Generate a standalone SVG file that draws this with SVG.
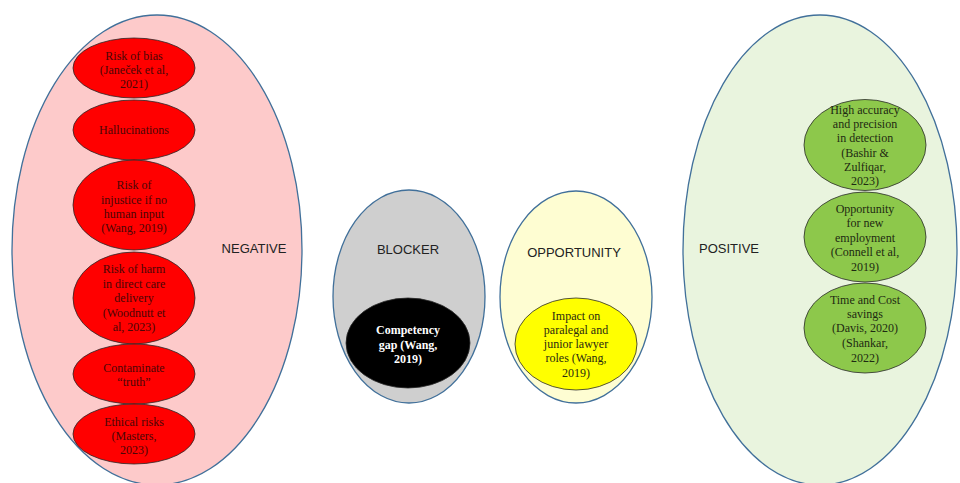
<svg xmlns="http://www.w3.org/2000/svg" width="960" height="483" viewBox="0 0 960 483">
<style>
.big{stroke:#41709a;stroke-width:1.3}
.lbl{font-family:"Liberation Sans",Arial,sans-serif;font-size:13px;fill:#222;text-anchor:middle}
.in{stroke:#2a2a2a;stroke-width:0.8}
.t{font-family:"Liberation Serif","Times New Roman",serif;font-size:12px;text-anchor:middle}
.tr{fill:#4a0606}
.tg{fill:#1e2a12}
.ty{fill:#2a2a10}
.tw{fill:#ffffff;font-weight:bold}
</style>
<rect width="960" height="483" fill="#ffffff"/>
<g id="negative">
<ellipse class="big" cx="157" cy="250" rx="145" ry="235" fill="#fdcaca"/>
<text class="lbl" x="254" y="253">NEGATIVE</text>
</g>
<g id="neg-bias">
<ellipse class="in" cx="134" cy="68" rx="61" ry="30" fill="#ff0000"/>
<text class="t tr" x="134" y="60">Risk of bias</text>
<text class="t tr" x="134" y="74">(Janeček et al,</text>
<text class="t tr" x="134" y="88">2021)</text>
</g>
<g id="neg-halluc">
<ellipse class="in" cx="134" cy="130" rx="61" ry="30" fill="#ff0000"/>
<text class="t tr" x="134" y="134">Hallucinations</text>
</g>
<g id="neg-injustice">
<ellipse class="in" cx="134" cy="205" rx="61" ry="45" fill="#ff0000"/>
<text class="t tr" x="134" y="189">Risk of</text>
<text class="t tr" x="134" y="204">injustice if no</text>
<text class="t tr" x="134" y="218">human input</text>
<text class="t tr" x="134" y="232">(Wang, 2019)</text>
</g>
<g id="neg-harm">
<ellipse class="in" cx="134" cy="298" rx="61" ry="46" fill="#ff0000"/>
<text class="t tr" x="134" y="273">Risk of harm</text>
<text class="t tr" x="134" y="288">in direct care</text>
<text class="t tr" x="134" y="302">delivery</text>
<text class="t tr" x="134" y="317">(Woodnutt et</text>
<text class="t tr" x="134" y="331">al, 2023)</text>
</g>
<g id="neg-truth">
<ellipse class="in" cx="134" cy="374" rx="61" ry="30" fill="#ff0000"/>
<text class="t tr" x="134" y="372">Contaminate</text>
<text class="t tr" x="134" y="386">“truth”</text>
</g>
<g id="neg-ethical">
<ellipse class="in" cx="134" cy="434" rx="61" ry="30" fill="#ff0000"/>
<text class="t tr" x="134" y="426">Ethical risks</text>
<text class="t tr" x="134" y="440">(Masters,</text>
<text class="t tr" x="134" y="454">2023)</text>
</g>
<g id="blocker">
<ellipse class="big" cx="409" cy="296.5" rx="76" ry="106.5" fill="#cfcfcf"/>
<text class="lbl" x="408" y="254">BLOCKER</text>
</g>
<g id="blk-gap">
<ellipse class="in" cx="408" cy="343" rx="62" ry="45" fill="#000000"/>
<text class="t tw" x="408" y="334">Competency</text>
<text class="t tw" x="408" y="349">gap (Wang,</text>
<text class="t tw" x="408" y="363">2019)</text>
</g>
<g id="opportunity">
<ellipse class="big" cx="576" cy="297" rx="76" ry="106" fill="#fefdd2"/>
<text class="lbl" x="574" y="257">OPPORTUNITY</text>
</g>
<g id="opp-impact">
<ellipse class="in" cx="576" cy="344" rx="61" ry="46" fill="#ffff00"/>
<text class="t ty" x="576" y="320">Impact on</text>
<text class="t ty" x="576" y="334">paralegal and</text>
<text class="t ty" x="576" y="348">junior lawyer</text>
<text class="t ty" x="576" y="362">roles (Wang,</text>
<text class="t ty" x="576" y="377">2019)</text>
</g>
<g id="positive">
<ellipse class="big" cx="820" cy="250" rx="137" ry="235" fill="#e9f4de"/>
<text class="lbl" x="729" y="253">POSITIVE</text>
</g>
<g id="pos-accuracy">
<ellipse class="in" cx="865" cy="145" rx="61" ry="45.5" fill="#8dc84b"/>
<text class="t tg" x="865" y="114">High accuracy</text>
<text class="t tg" x="865" y="128">and precision</text>
<text class="t tg" x="865" y="142">in detection</text>
<text class="t tg" x="865" y="157">(Bashir &amp;</text>
<text class="t tg" x="865" y="171">Zulfiqar,</text>
<text class="t tg" x="865" y="185">2023)</text>
</g>
<g id="pos-employment">
<ellipse class="in" cx="865" cy="237" rx="61" ry="45" fill="#8dc84b"/>
<text class="t tg" x="865" y="213">Opportunity</text>
<text class="t tg" x="865" y="227">for new</text>
<text class="t tg" x="865" y="242">employment</text>
<text class="t tg" x="865" y="256">(Connell et al,</text>
<text class="t tg" x="865" y="271">2019)</text>
</g>
<g id="pos-savings">
<ellipse class="in" cx="865" cy="328" rx="61" ry="45" fill="#8dc84b"/>
<text class="t tg" x="865" y="304">Time and Cost</text>
<text class="t tg" x="865" y="318">savings</text>
<text class="t tg" x="865" y="332">(Davis, 2020)</text>
<text class="t tg" x="865" y="347">(Shankar,</text>
<text class="t tg" x="865" y="362">2022)</text>
</g>
<g id="connectors"/>
</svg>
